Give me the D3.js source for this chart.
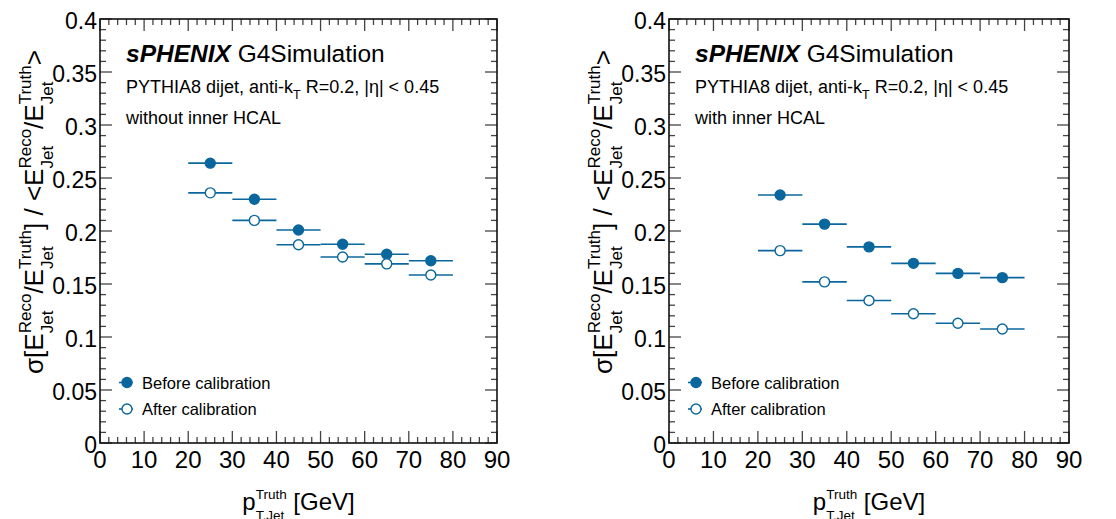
<!DOCTYPE html>
<html>
<head>
<meta charset="utf-8">
<script src="https://cdn.jsdelivr.net/npm/d3@7"></script>
<style>
  body { margin: 0; background: #fff; }
  svg { display: block; font-family: "Liberation Sans", Arial, Helvetica, sans-serif; }
  text { white-space: pre; }
</style>
</head>
<body>
<div id="chart"></div>
<script>
// bin centres in pT (GeV), each bin is 10 GeV wide
const ptBins = [25, 35, 45, 55, 65, 75];
const binHalfWidth = 5;

// without inner HCAL
const noIhcalBefore = [0.264, 0.230, 0.201, 0.1875, 0.178, 0.172];
const noIhcalAfter  = [0.236, 0.210, 0.187, 0.1755, 0.169, 0.1585];

// with inner HCAL
const ihcalBefore = [0.234, 0.2065, 0.185, 0.1695, 0.160, 0.156];
const ihcalAfter  = [0.1815, 0.152, 0.1345, 0.122, 0.113, 0.1075];

const xTicks = [0, 10, 20, 30, 40, 50, 60, 70, 80, 90];
const yTicks = [0, 0.05, 0.1, 0.15, 0.2, 0.25, 0.3, 0.35, 0.4];
const xTickLabels = ["0", "10", "20", "30", "40", "50", "60", "70", "80", "90"];
const yTickLabels = ["0", "0.05", "0.1", "0.15", "0.2", "0.25", "0.3", "0.35", "0.4"];

const panels = [
  { left: 100, right: 497, caption: "without inner HCAL", before: noIhcalBefore, after: noIhcalAfter },
  { left: 669, right: 1069, caption: "with inner HCAL", before: ihcalBefore, after: ihcalAfter }
];

const W = 1116, H = 519;
const plotTop = 19, plotBottom = 443;
const color = "#0a679d";

const svg = d3.select("#chart").append("svg")
  .attr("width", W)
  .attr("height", H);

// lays out text pieces one after another; {sup, sub} pieces are stacked like ROOT's TLatex
function latex(g, parts, size, small, supUp, subDown) {
  let cx = 0;
  parts.forEach(p => {
    if (p.t !== undefined) {
      const t = g.append("text").attr("x", cx).attr("y", 0)
        .style("font-size", size + "px").text(p.t);
      cx += t.node().getComputedTextLength();
    } else {
      const a = g.append("text").attr("x", cx).attr("y", -supUp)
        .style("font-size", small + "px").text(p.sup);
      const b = g.append("text").attr("x", cx).attr("y", subDown)
        .style("font-size", small + "px").text(p.sub);
      cx += Math.max(a.node().getComputedTextLength(), b.node().getComputedTextLength());
    }
  });
  return cx;
}

panels.forEach(p => {
  const x = d3.scaleLinear().domain([0, 90]).range([p.left, p.right]);
  const y = d3.scaleLinear().domain([0, 0.4]).range([plotBottom, plotTop]);
  const g = svg.append("g");

  // ticks on all four sides, pointing inwards
  const xMinor = d3.range(0, 90.01, 2);
  const yMinor = d3.range(0, 0.4001, 0.01);
  const tickG = g.append("g").attr("stroke", "#444").attr("stroke-width", 1.3);
  xMinor.forEach(v => {
    const len = Math.abs(v % 10) < 1e-6 ? 12 : 6;
    tickG.append("line").attr("x1", x(v)).attr("x2", x(v)).attr("y1", plotBottom).attr("y2", plotBottom - len);
    tickG.append("line").attr("x1", x(v)).attr("x2", x(v)).attr("y1", plotTop).attr("y2", plotTop + len);
  });
  yMinor.forEach((v, i) => {
    const len = i % 5 === 0 ? 12 : 6;
    tickG.append("line").attr("x1", p.left).attr("x2", p.left + len).attr("y1", y(v)).attr("y2", y(v));
    tickG.append("line").attr("x1", p.right).attr("x2", p.right - len).attr("y1", y(v)).attr("y2", y(v));
  });

  g.append("rect")
    .attr("x", p.left).attr("y", plotTop)
    .attr("width", p.right - p.left).attr("height", plotBottom - plotTop)
    .attr("fill", "none").attr("stroke", "#111").attr("stroke-width", 1.6);

  // tick labels
  g.selectAll("text.xl").data(xTicks).enter().append("text")
    .attr("class", "xl")
    .attr("x", d => x(d)).attr("y", 468)
    .attr("text-anchor", "middle")
    .style("font-size", "24px")
    .text((d, i) => xTickLabels[i]);

  g.selectAll("text.yl").data(yTicks).enter().append("text")
    .attr("class", "yl")
    .attr("x", p.left - 3).attr("y", d => y(d) + 10)
    .attr("text-anchor", "end")
    .style("font-size", "23px")
    .text((d, i) => yTickLabels[i]);

  // x title
  const xt = g.append("g");
  const xw = latex(xt, [{ t: "p" }, { sup: "Truth", sub: "T,Jet" }, { t: " [GeV]" }], 24, 13.5, 11, 10);
  xt.attr("transform", `translate(${(p.left + p.right) / 2 - xw / 2}, 510)`);

  // y title
  const yt = g.append("g");
  const yParts = [
    { t: "σ[E" }, { sup: "Reco", sub: "Jet" }, { t: "/E" }, { sup: "Truth", sub: "Jet" },
    { t: "] / <E" }, { sup: "Reco", sub: "Jet" }, { t: "/E" }, { sup: "Truth", sub: "Jet" }, { t: ">" }
  ];
  const yw = latex(yt, yParts, 26, 17, 12, 10);
  yt.attr("transform", `translate(${p.left - 57}, ${212 + yw / 2}) rotate(-90)`);

  // labels inside the frame
  const lab = g.append("text").attr("x", p.left + 26).attr("y", 62).style("font-size", "24.5px");
  lab.append("tspan").style("font-weight", "bold").style("font-style", "italic").text("sPHENIX");
  lab.append("tspan").text(" G4Simulation");

  const sub = g.append("g").attr("transform", `translate(${p.left + 26}, 93)`);
  latex(sub, [{ t: "PYTHIA8 dijet, anti-k" }, { sup: "", sub: "T" }, { t: " R=0.2, |η| < 0.45" }], 18, 12.5, 6, 6);

  g.append("text").attr("x", p.left + 26).attr("y", 123.5)
    .style("font-size", "18px").text(p.caption);

  // data: horizontal bin-width bars plus markers
  const series = [
    { vals: p.before, fill: color },
    { vals: p.after, fill: "#fff" }
  ];
  series.forEach(s => {
    const pts = ptBins.map((b, i) => ({ x: b, y: s.vals[i] }));
    g.selectAll(null).data(pts).enter().append("line")
      .attr("x1", d => x(d.x - binHalfWidth)).attr("x2", d => x(d.x + binHalfWidth))
      .attr("y1", d => y(d.y)).attr("y2", d => y(d.y))
      .attr("stroke", color).attr("stroke-width", 1.6);
    g.selectAll(null).data(pts).enter().append("circle")
      .attr("cx", d => x(d.x)).attr("cy", d => y(d.y)).attr("r", 5)
      .attr("fill", s.fill).attr("stroke", color).attr("stroke-width", 1.4);
  });

  // legend
  const legend = [
    { label: "Before calibration", fill: color, yy: 382.5 },
    { label: "After calibration", fill: "#fff", yy: 409 }
  ];
  legend.forEach(l => {
    const lx = p.left + 27;
    g.append("line").attr("x1", lx - 8).attr("x2", lx + 6)
      .attr("y1", l.yy).attr("y2", l.yy)
      .attr("stroke", color).attr("stroke-width", 1.6);
    g.append("circle").attr("cx", lx).attr("cy", l.yy).attr("r", 5)
      .attr("fill", l.fill).attr("stroke", color).attr("stroke-width", 1.4);
    g.append("text").attr("x", p.left + 42).attr("y", l.yy + 6)
      .style("font-size", "16.5px").text(l.label);
  });
});
</script>
</body>
</html>
